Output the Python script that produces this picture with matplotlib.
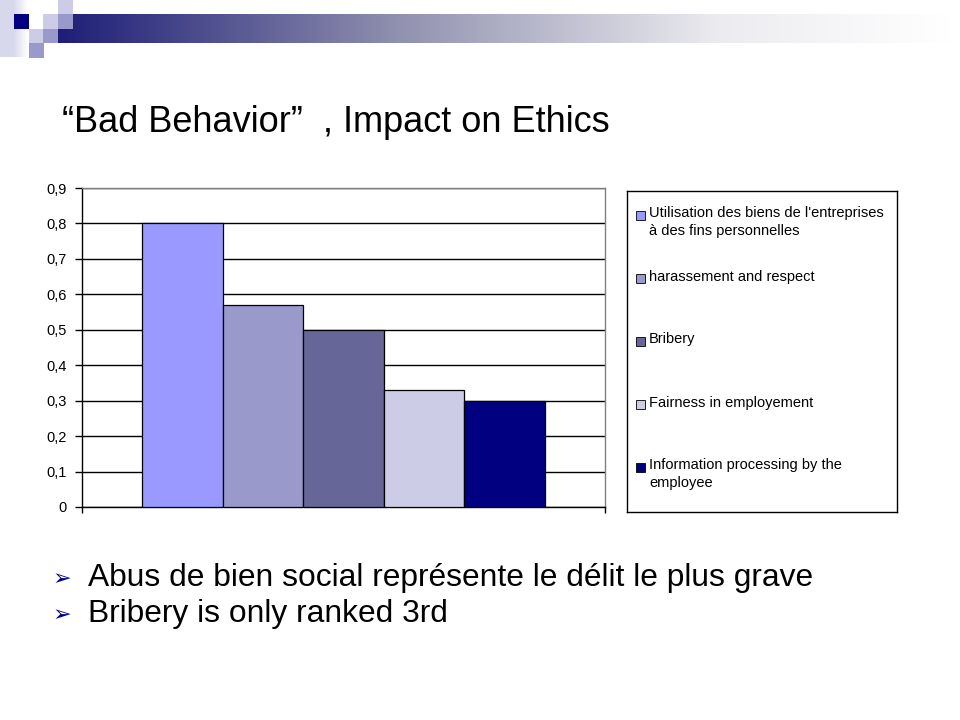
import numpy as np
import matplotlib
matplotlib.use("Agg")
import matplotlib.pyplot as plt
from matplotlib.patches import Rectangle
from matplotlib.ticker import FuncFormatter

plt.rcParams['font.family'] = ['Liberation Sans', 'DejaVu Sans']

# ---- data ----
series_labels = [
    "Utilisation des biens de l'entreprises\nà des fins personnelles",
    "harassement and respect",
    "Bribery",
    "Fairness in employement",
    "Information processing by the\nemployee",
]
series_values = [0.80, 0.57, 0.50, 0.33, 0.30]
series_colors = ["#9999FF", "#9999CC", "#666699", "#CCCCE6", "#000080"]
y_ticks = [0, 0.1, 0.2, 0.3, 0.4, 0.5, 0.6, 0.7, 0.8, 0.9]
title_text = "\u201cBad Behavior\u201d  , Impact on Ethics"
bullets = ["Abus de bien social représente le délit le plus grave",
           "Bribery is only ranked 3rd"]

W, H = 960, 720
fig = plt.figure(figsize=(9.6, 7.2), dpi=100)

# ---- slide decoration (background axes in pixel coords) ----
bg = fig.add_axes([0, 0, 1, 1])
bg.set_xlim(0, W)
bg.set_ylim(H, 0)
bg.axis('off')

# gradient header bar
xs = np.linspace(58, W, 600)
stops_x = [58, 180, 400, 720, 950, 960]
stops_c = np.array([[30, 30, 120], [70, 70, 138], [145, 145, 176],
                    [236, 236, 240], [255, 255, 255], [255, 255, 255]]) / 255.0
grad = np.stack([np.interp(xs, stops_x, stops_c[:, k]) for k in range(3)], axis=-1)
bg.imshow(grad[np.newaxis, :, :], extent=[58, W, 43, 14], aspect='auto',
          interpolation='bilinear', zorder=1)
# left vertical faded strip
xs2 = np.linspace(0, 28, 50)
g2 = np.stack([np.interp(xs2, [0, 14, 28], [c0, c0, 1.0]) for c0 in
               np.array([216, 216, 236]) / 255.0], axis=-1)
bg.imshow(g2[np.newaxis, :, :], extent=[0, 28, 57, 0], aspect='auto',
          interpolation='bilinear', zorder=1)

s = 14.5
light, med, navy = "#CCCCE6", "#9999CC", "#000080"
for (x0, y0, c) in [(58, 0, light), (14, 14, navy), (43, 14, light),
                    (58, 14, med), (29, 28.5, light), (43, 28.5, med),
                    (29, 43, med)]:
    bg.add_patch(Rectangle((x0, y0), s, s, facecolor=c, edgecolor='none', zorder=2))

# title
bg.text(62, 123, title_text, fontsize=26, va='center', ha='left', color='black')

# bullets
for i, b in enumerate(bullets):
    yy = 578 + i * 36
    bg.text(53, yy + 1, "\u27a2", fontsize=16, va='center', ha='left',
            color='#000080', family=['DejaVu Sans'])
    bg.text(88, yy, b, fontsize=22.9, va='center', ha='left', color='black')

# ---- chart ----
ax = fig.add_axes([82 / W, (H - 507) / H, (605 - 82) / W, (507 - 188) / H])
idx = np.arange(len(series_values))
ax.bar(idx, series_values, width=1.0, color=series_colors,
       edgecolor='black', linewidth=0.9, zorder=3)
ax.set_xlim(-1.25, len(series_values) + 0.25)
ax.set_ylim(0, 0.9)
ax.set_yticks(y_ticks)
ax.yaxis.set_major_formatter(FuncFormatter(
    lambda v, p: "0" if abs(v) < 1e-9 else ("%.1f" % v).replace('.', ',')))
ax.grid(axis='y', color='black', linewidth=1.0, zorder=1)
ax.set_xticks([-1.25, len(series_values) + 0.25])
ax.set_xticklabels([])
ax.tick_params(axis='x', direction='out', length=4, width=1, color='black')
ax.tick_params(axis='y', direction='out', length=5, width=1, color='black',
               labelsize=10.5, pad=6)
for sp in ['left', 'bottom']:
    ax.spines[sp].set_color('black')
    ax.spines[sp].set_linewidth(1.0)
for sp in ['top', 'right']:
    ax.spines[sp].set_color('#808080')
    ax.spines[sp].set_linewidth(1.0)
ax.set_axisbelow(True)

# ---- legend box ----
lg = fig.add_axes([627 / W, (H - 512) / H, (897 - 627) / W, (512 - 191) / H])
lg.set_xlim(627, 897)
lg.set_ylim(512, 191)
lg.set_xticks([])
lg.set_yticks([])
for sp in lg.spines.values():
    sp.set_color('black')
    sp.set_linewidth(1.0)
for i, (lab, col) in enumerate(zip(series_labels, series_colors)):
    yc = 215 + i * 63
    lg.add_patch(Rectangle((636, yc - 4), 8.5, 8.5, facecolor=col,
                           edgecolor='black', linewidth=0.6))
    lg.text(649, yc - 8.5, lab, fontsize=10.5, va='top', ha='left',
            linespacing=1.32, color='black')

fig.savefig("out.png", dpi=100)
